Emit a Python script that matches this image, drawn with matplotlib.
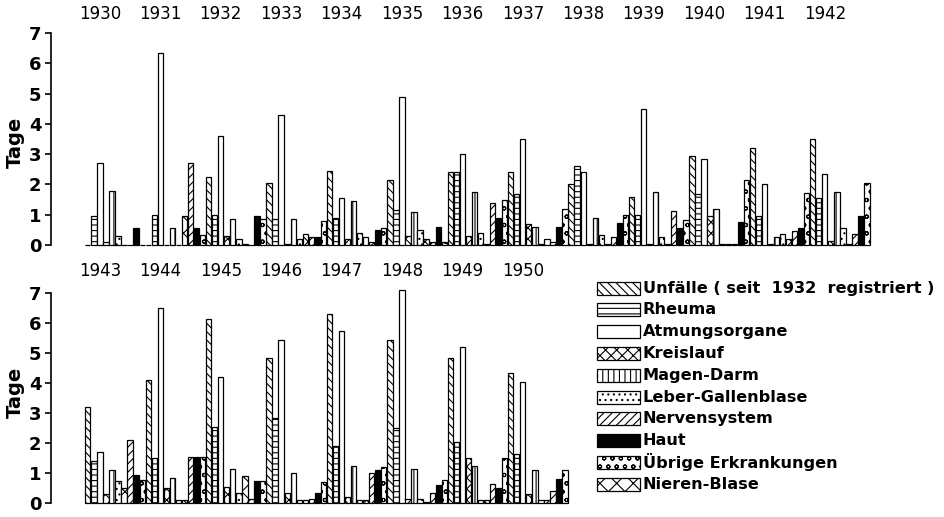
import numpy as np
import matplotlib.pyplot as plt
from matplotlib.patches import Rectangle

plt.rcParams['hatch.linewidth'] = 0.8

years = list(range(1930, 1951))

# legend order
labels = ['Unfälle ( seit  1932  registriert )', 'Rheuma', 'Atmungsorgane', 'Kreislauf',
          'Magen-Darm', 'Leber-Gallenblase', 'Nervensystem', 'Haut',
          'Übrige Erkrankungen', 'Nieren-Blase']
hatches = ['\\\\\\\\', '---', '', 'xxx', '|||', '...', '////', '', 'oo', 'xx']
fills = ['white'] * 7 + ['black'] + ['white'] * 2

# days per year, 1930 ... 1950
unfaelle = [0, 0, 2.25, 2.05, 2.45, 2.15, 2.4, 2.4, 2.0, 1.6, 2.95, 3.2, 3.5,
            3.2, 4.1, 6.15, 4.85, 6.3, 5.45, 4.85, 4.35]
rheuma = [0.95, 1.0, 1.0, 0.85, 0.9, 1.15, 2.4, 1.7, 2.6, 1.0, 1.7, 0.95, 1.55,
          1.4, 1.5, 2.55, 2.85, 1.9, 2.5, 2.05, 1.65]
atmung = [2.7, 6.35, 3.6, 4.3, 1.55, 4.9, 3.0, 3.5, 2.4, 4.5, 2.85, 2.0, 2.35,
          1.7, 6.5, 4.2, 5.45, 5.75, 7.1, 5.2, 4.05]
kreislauf = [0.1, 0, 0.3, 0.05, 0.2, 0.3, 0.3, 0.7, 0.05, 0.05, 0.95, 0.05, 0.15,
             0.3, 0.5, 0.55, 0.35, 0.2, 0.15, 1.5, 0.3]
magen = [1.8, 0.55, 0.85, 0.85, 1.45, 1.1, 1.75, 0.6, 0.9, 1.75, 1.2, 0.25, 1.75,
         1.1, 0.85, 1.15, 1.0, 1.25, 1.15, 1.25, 1.1]
leber = [0.3, 0, 0.2, 0.2, 0.4, 0.5, 0.4, 0.05, 0.33, 0.25, 0.05, 0.35, 0.55,
         0.75, 0.1, 0.35, 0.1, 0.1, 0.15, 0.1, 0.1]
nerven = [0, 2.7, 0, 0.28, 0.1, 0.1, 1.4, 0.1, 0.25, 1.12, 0.05, 0.45, 0.35,
          2.1, 1.55, 0.15, 0.15, 1.0, 0.35, 0.65, 0.4]
haut = [0.56, 0.56, 0.96, 0.27, 0.5, 0.6, 0.9, 0.6, 0.73, 0.55, 0.77, 0.57, 0.96,
        0.92, 1.55, 0.75, 0.35, 1.1, 0.6, 0.5, 0.8]
uebrige = [0, 0.33, 0.85, 0.8, 0.55, 0.1, 1.5, 1.2, 1.0, 0.82, 2.15, 1.72, 2.04,
           0.78, 1.55, 0.75, 0.7, 1.2, 0.77, 1.5, 1.1]
nieren = [0, 0.95, 0.05, 0.35, 0.25, 0.2, 0.05, 0.2, 0.05, 0.05, 0.05, 0.2, 0.05,
          0.5, 0.1, 0.9, 0.1, 0.1, 0.05, 0.1, 0.1]

series = [unfaelle, rheuma, atmung, kreislauf, magen, leber, nerven, haut, uebrige, nieren]
# position of each category inside a year group (index into legend order)
slot_order = [0, 1, 2, 3, 4, 5, 9, 6, 7, 8]

fig = plt.figure(figsize=(9.44, 5.17), dpi=100)
ax_top = fig.add_axes([0.054, 0.526, 0.878, 0.41])
ax_bot = fig.add_axes([0.054, 0.027, 0.878, 0.406])

panels = [(ax_top, 0, 13, 7.63, 142), (ax_bot, 13, 21, 7.75, 392)]
for ax, y0, y1, ylab_y, tage_y in panels:
    n = y1 - y0
    for slot, cat in enumerate(slot_order):
        x = np.arange(n) * 10 + slot
        ax.bar(x, series[cat][y0:y1], width=0.88, color=fills[cat],
               edgecolor='black', hatch=hatches[cat], linewidth=0.9, clip_on=False)
    for i, yr in enumerate(years[y0:y1]):
        ax.text(i * 10 + 2, ylab_y, str(yr), ha='center', va='center',
                fontsize=12, clip_on=False)
    ax.set_xlim(-6.1, 131.1)
    ax.set_ylim(0, 7)
    for s in ['top', 'right', 'bottom']:
        ax.spines[s].set_visible(False)
    ax.spines['left'].set_linewidth(1.2)
    ax.set_xticks([])
    ax.set_yticks(range(8))
    ax.tick_params(axis='y', labelsize=13, width=1.2, length=4, pad=3)
    for t in ax.get_yticklabels():
        t.set_fontweight('bold')
    fig.text(15 / 944, (517 - tage_y) / 517, 'Tage', rotation=90, ha='center',
             va='center', fontsize=14, fontweight='bold')

# legend
for j, lab in enumerate(labels):
    yc = 288 + 21.8 * j
    fig.add_artist(Rectangle((597 / 944, (517 - yc - 6.5) / 517), 43 / 944, 13 / 517,
                             transform=fig.transFigure, facecolor=fills[j],
                             edgecolor='black', hatch=hatches[j], linewidth=0.9))
    fig.text(643 / 944, (517 - yc) / 517, lab, ha='left', va='center',
             fontsize=11.6, fontweight='bold')

fig.savefig('out.png', dpi=100)
